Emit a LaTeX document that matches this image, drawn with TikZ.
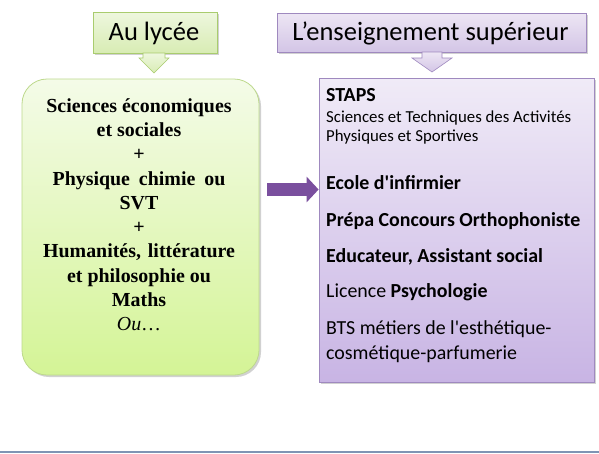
\documentclass[tikz,border=0pt]{standalone}
\usepackage{fontspec}
\newfontfamily\calib{Carlito}[Ligatures=TeXOff]
\newfontfamily\tms{Liberation Serif}
\usetikzlibrary{arrows.meta,shadows}
\definecolor{gtopA}{HTML}{EEF7DE}
\definecolor{gbotA}{HTML}{D8ECB4}
\definecolor{gbrd}{HTML}{A9CC6E}
\definecolor{gtopB}{HTML}{F4FBE8}
\definecolor{gbotB}{HTML}{D4F496}
\definecolor{gbrdB}{HTML}{BDD98C}
\definecolor{ptopA}{HTML}{EDE6F4}
\definecolor{pbotA}{HTML}{D3C5E6}
\definecolor{pbrd}{HTML}{9F89BF}
\definecolor{ptopB}{HTML}{F0EBF7}
\definecolor{pbotB}{HTML}{C8B4E4}
\definecolor{arrowpurple}{HTML}{7A4F9E}
\definecolor{bottomrule}{HTML}{7F94B4}
\begin{document}
\begin{tikzpicture}[x=1pt,y=-1pt,
  boxshadow/.style={drop shadow={shadow xshift=2pt,shadow yshift=-2pt,opacity=0.18,fill=black}},
  greenbox/.style={draw=gbrd,line width=0.8pt,top color=gtopA,bottom color=gbotA,inner sep=0,boxshadow},
  purplebox/.style={draw=pbrd,line width=0.8pt,top color=ptopA,bottom color=pbotA,inner sep=0,boxshadow},
  titletext/.style={font=\calib\fontsize{26.5}{30}\selectfont,anchor=base,inner sep=0},
  lefttext/.style={font=\tms\bfseries\fontsize{19.9}{24}\selectfont,anchor=base,inner sep=0},
  righttext/.style={font=\calib\fontsize{19.9}{23}\selectfont,anchor=base west,inner sep=0},
  rightbold/.style={righttext,font=\calib\bfseries\fontsize{19.9}{23}\selectfont},
  smalltext/.style={font=\calib\fontsize{16.8}{19}\selectfont,anchor=base west,inner sep=0},
  bigarrow/.style={draw=arrowpurple,line width=13pt,-{Triangle[length=12pt,width=25pt]}}
]
\useasboundingbox (0,0) rectangle (599,453);
\fill[white] (0,0) rectangle (599,453);
\draw[bottomrule,line width=1.6pt] (0,452.2) -- (599,452.2);

% top boxes
\node[greenbox,minimum width=124pt,minimum height=41pt] (lt) at (155,32.5) {};
\node[titletext] (ltt) at (154,40) {Au lycée};
\node[purplebox,minimum width=309pt,minimum height=39pt] (rt) at (431.5,32.5) {};
\node[titletext] (rtt) at (430.5,40.5) {L’enseignement supérieur};

% down arrows
\draw[draw=gbrd,line width=0.6pt,top color=gtopA,bottom color=gbotA]
  (143,53) -- (165,53) -- (165,58) -- (169,58) -- (154,73) -- (139,58) -- (143,58) -- cycle;
\draw[draw=pbrd,line width=0.6pt,top color=ptopA,bottom color=pbotA]
  (422,52) -- (442,52) -- (442,58) -- (452,58) -- (432,72) -- (412,58) -- (422,58) -- cycle;

% big boxes
\node[draw=gbrdB,line width=0.8pt,top color=gtopB,bottom color=gbotB,rounded corners=25pt,
  minimum width=237pt,minimum height=296pt,inner sep=0,boxshadow] (lbox) at (140.5,227) {};
\node[draw=pbrd,line width=0.8pt,top color=ptopB,bottom color=pbotB,
  minimum width=275pt,minimum height=304pt,inner sep=0,boxshadow] (rbox) at (456.5,230) {};

% left text
\node[lefttext] (l1) at (139,112.3) {Sciences économiques};
\node[lefttext] (l2) at (139,136.5) {et sociales};
\node[lefttext] (l3) at (139,160.8) {+};
\node[lefttext] (l4) at (139,185) {Physique\hspace{0.45em}chimie\hspace{0.45em}ou};
\node[lefttext] (l5) at (139,209.3) {SVT};
\node[lefttext] (l6) at (139,233.5) {+};
\node[lefttext] (l7) at (139,257.7) {Humanités,\hspace{0.35em}littérature};
\node[lefttext] (l8) at (139,282) {et philosophie ou};
\node[lefttext] (l9) at (139,306.2) {Maths};
\node[lefttext,font=\tms\fontsize{19.9}{24}\selectfont] (l10) at (139,330.5) {\textit{Ou}\ldots};

% right text
\node[rightbold] (r1) at (326,101) {STAPS};
\node[smalltext] (r2) at (326,122.7) {Sciences et Techniques des Activités};
\node[smalltext] (r3) at (326,141) {Physiques et Sportives};
\node[rightbold] (r4) at (326,189.3) {Ecole d'infirmier};
\node[rightbold] (r5) at (326,226) {Prépa Concours Orthophoniste};
\node[rightbold] (r6) at (326,262) {Educateur, Assistant social};
\node[righttext] (r7) at (326,297.7) {Licence \textbf{Psychologie}};
\node[righttext] (r8) at (326,334) {BTS métiers de l'esthétique-};
\node[righttext] (r9) at (326,359) {cosmétique-parfumerie};

% connector
\coordinate (ay) at (0,189.5);
\draw[bigarrow] ([xshift=8pt]lbox.east |- ay) -- (rbox.west |- ay);
\end{tikzpicture}
\end{document}
